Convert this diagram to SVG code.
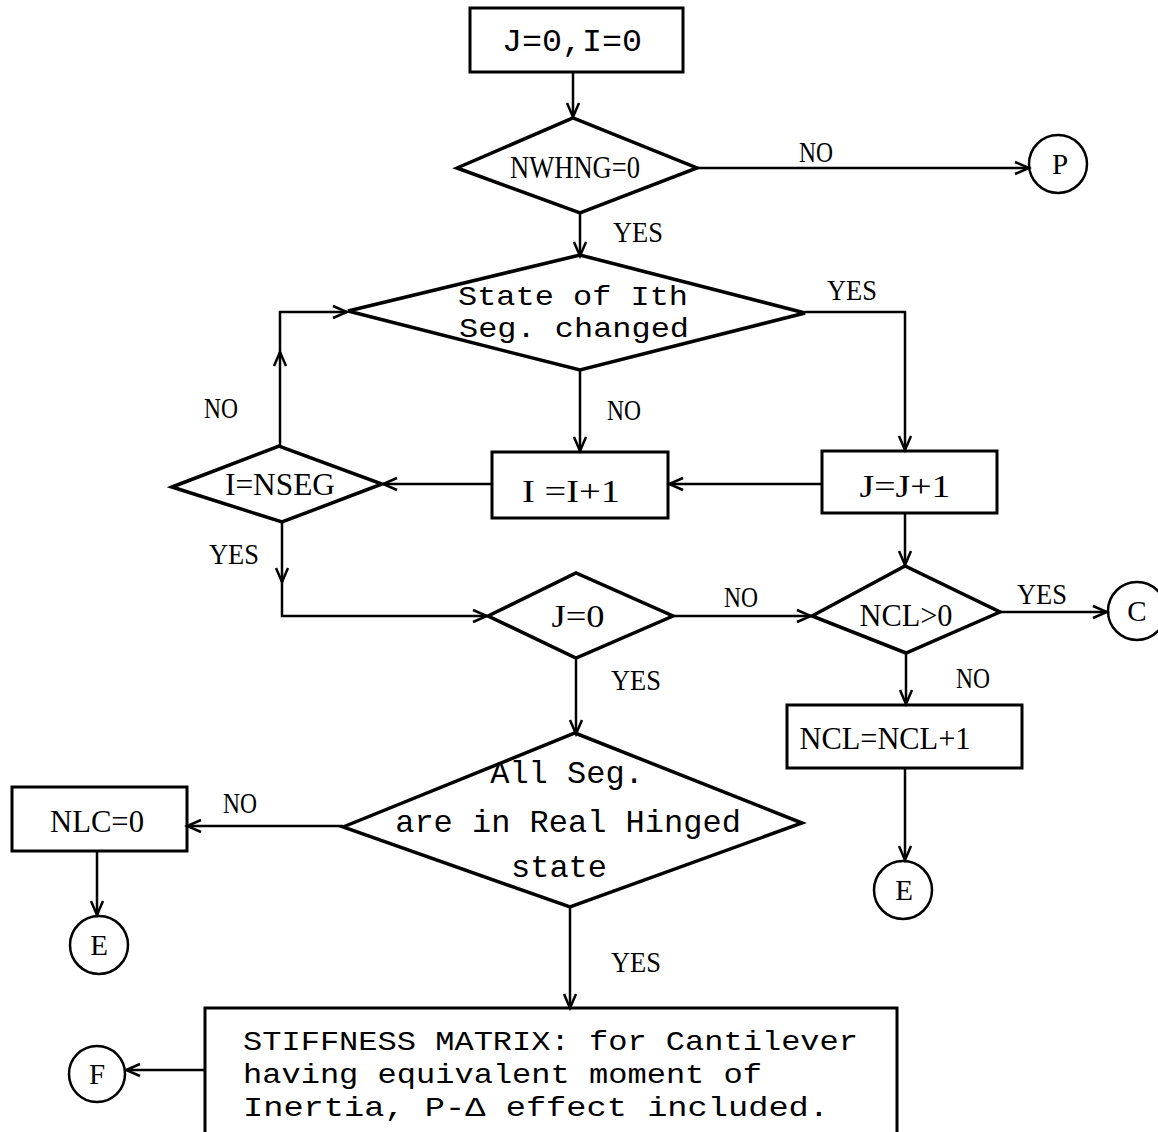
<svg xmlns="http://www.w3.org/2000/svg" width="1158" height="1132" viewBox="0 0 1158 1132">
<style>
.s{fill:none;stroke:#000;stroke-width:3}
.d{fill:none;stroke:#000;stroke-width:3.5;stroke-linejoin:miter}
.c{fill:none;stroke:#000;stroke-width:2.5}
.w{fill:none;stroke:#000;stroke-width:2.5}
text{font-family:"Liberation Mono","DejaVu Sans Mono",monospace;font-size:32px;fill:#000}
.m{text-anchor:middle}
.t{font-size:28px}
.n{font-family:"Liberation Serif","DejaVu Serif",serif;font-size:31px;text-anchor:middle}
.l{font-family:"Liberation Serif","DejaVu Serif",serif;font-size:30px;text-anchor:middle}
.k{font-family:"Liberation Serif","DejaVu Serif",serif;font-size:29px;text-anchor:middle}
</style>
<defs>
<marker id="ah" markerUnits="userSpaceOnUse" markerWidth="20" markerHeight="16" viewBox="-16 -8 18 16" refX="0" refY="0" orient="auto">
<path d="M-14,-6 L0,0 L-14,6" fill="none" stroke="#000" stroke-width="2.5"/>
</marker>
</defs>
<rect width="1158" height="1132" fill="#fff"/>

<g id="connectors" class="w">
<path d="M573,72 V117" marker-end="url(#ah)"/>
<path d="M697,168 H1029" marker-end="url(#ah)"/>
<path d="M580,213 V256" marker-end="url(#ah)"/>
<path d="M805,312 H905 V450" marker-end="url(#ah)"/>
<path d="M580,370 V451" marker-end="url(#ah)"/>
<path d="M822,484 H669" marker-end="url(#ah)"/>
<path d="M492,484 H383" marker-end="url(#ah)"/>
<path d="M280,446 V352" marker-end="url(#ah)"/>
<path d="M280,354 V312 H347" marker-end="url(#ah)"/>
<path d="M282,522 V582" marker-end="url(#ah)"/>
<path d="M282,580 V616 H487" marker-end="url(#ah)"/>
<path d="M673,616 H811" marker-end="url(#ah)"/>
<path d="M905,513 V565" marker-end="url(#ah)"/>
<path d="M1000,612 H1107" marker-end="url(#ah)"/>
<path d="M906,653 V704" marker-end="url(#ah)"/>
<path d="M905,768 V860" marker-end="url(#ah)"/>
<path d="M576,658 V734" marker-end="url(#ah)"/>
<path d="M343,826 H187" marker-end="url(#ah)"/>
<path d="M97,851 V915" marker-end="url(#ah)"/>
<path d="M570,907 V1008" marker-end="url(#ah)"/>
<path d="M205,1070 H126" marker-end="url(#ah)"/>
</g>

<g id="start">
<rect class="s" x="470" y="8" width="213" height="64"/>
<text class="m" x="572" y="51" textLength="140" lengthAdjust="spacingAndGlyphs">J=0,I=0</text>
</g>
<g id="d_nwhng">
<polygon class="d" points="457,168 573,118 697,168 580,213"/>
<text class="n" x="575" y="178" textLength="130" lengthAdjust="spacingAndGlyphs">NWHNG=0</text>
</g>
<g id="p_circle">
<circle class="c" cx="1058" cy="164" r="29"/>
<text class="k" x="1060" y="174">P</text>
</g>
<g id="d_state">
<polygon class="d" points="348,311 580,255 805,313 580,370"/>
<text class="m t" x="573" y="305" textLength="230" lengthAdjust="spacingAndGlyphs">State of Ith</text>
<text class="m t" x="574" y="337" textLength="230" lengthAdjust="spacingAndGlyphs">Seg. changed</text>
</g>
<g id="b_iinc">
<rect class="s" x="492" y="452" width="176" height="66"/>
<text class="n" x="571" y="502" textLength="98" lengthAdjust="spacingAndGlyphs">I =I+1</text>
</g>
<g id="b_jinc">
<rect class="s" x="822" y="451" width="175" height="62"/>
<text class="n" x="905" y="497" textLength="91" lengthAdjust="spacingAndGlyphs">J=J+1</text>
</g>
<g id="d_nseg">
<polygon class="d" points="172,487 279,446 382,484 282,522"/>
<text class="n" x="280" y="495" textLength="110" lengthAdjust="spacingAndGlyphs">I=NSEG</text>
</g>
<g id="d_j0">
<polygon class="d" points="488,616 576,573 673,616 576,658"/>
<text class="n" x="578" y="627" textLength="53" lengthAdjust="spacingAndGlyphs">J=0</text>
</g>
<g id="d_ncl">
<polygon class="d" points="812,616 905,566 1000,612 906,653"/>
<text class="n" x="906" y="626" textLength="93" lengthAdjust="spacingAndGlyphs">NCL&gt;0</text>
</g>
<g id="c_circle">
<circle class="c" cx="1137" cy="611" r="29"/>
<text class="k" x="1137" y="621">C</text>
</g>
<g id="b_nclinc">
<rect class="s" x="787" y="705" width="235" height="63"/>
<text class="n" x="885" y="749" textLength="171" lengthAdjust="spacingAndGlyphs">NCL=NCL+1</text>
</g>
<g id="e_right">
<circle class="c" cx="903" cy="890" r="29"/>
<text class="k" x="904" y="900">E</text>
</g>
<g id="d_allseg">
<polygon class="d" points="343,827 575,733 802,823 570,907"/>
<text class="m" x="567" y="783">All Seg.</text>
<text class="m" x="568" y="832">are in Real Hinged</text>
<text class="m" x="559" y="877">state</text>
</g>
<g id="b_nlc">
<rect class="s" x="12" y="787" width="175" height="64"/>
<text class="n" x="97" y="832" textLength="94" lengthAdjust="spacingAndGlyphs">NLC=0</text>
</g>
<g id="e_left">
<circle class="c" cx="99" cy="945" r="29"/>
<text class="k" x="99" y="955">E</text>
</g>
<g id="b_stiff">
<path class="s" d="M205,1140 V1008 H897 V1140"/>
<text class="t" x="243" y="1050" textLength="615" lengthAdjust="spacingAndGlyphs">STIFFNESS MATRIX: for Cantilever</text>
<text class="t" x="243" y="1083" textLength="519" lengthAdjust="spacingAndGlyphs">having equivalent moment of</text>
<text class="t" x="243" y="1116" textLength="586" lengthAdjust="spacingAndGlyphs">Inertia, P-Δ effect included.</text>
</g>
<g id="f_circle">
<circle class="c" cx="97" cy="1074" r="28"/>
<text class="k" x="97" y="1084">F</text>
</g>

<g id="labels">
<text class="l" x="816" y="162" textLength="34" lengthAdjust="spacingAndGlyphs">NO</text>
<text class="l" x="638" y="242" textLength="50" lengthAdjust="spacingAndGlyphs">YES</text>
<text class="l" x="852" y="300" textLength="50" lengthAdjust="spacingAndGlyphs">YES</text>
<text class="l" x="624" y="420" textLength="34" lengthAdjust="spacingAndGlyphs">NO</text>
<text class="l" x="221" y="418" textLength="34" lengthAdjust="spacingAndGlyphs">NO</text>
<text class="l" x="234" y="564" textLength="50" lengthAdjust="spacingAndGlyphs">YES</text>
<text class="l" x="741" y="607" textLength="34" lengthAdjust="spacingAndGlyphs">NO</text>
<text class="l" x="1042" y="604" textLength="50" lengthAdjust="spacingAndGlyphs">YES</text>
<text class="l" x="973" y="688" textLength="34" lengthAdjust="spacingAndGlyphs">NO</text>
<text class="l" x="636" y="690" textLength="50" lengthAdjust="spacingAndGlyphs">YES</text>
<text class="l" x="240" y="813" textLength="34" lengthAdjust="spacingAndGlyphs">NO</text>
<text class="l" x="636" y="972" textLength="50" lengthAdjust="spacingAndGlyphs">YES</text>
</g>
</svg>
